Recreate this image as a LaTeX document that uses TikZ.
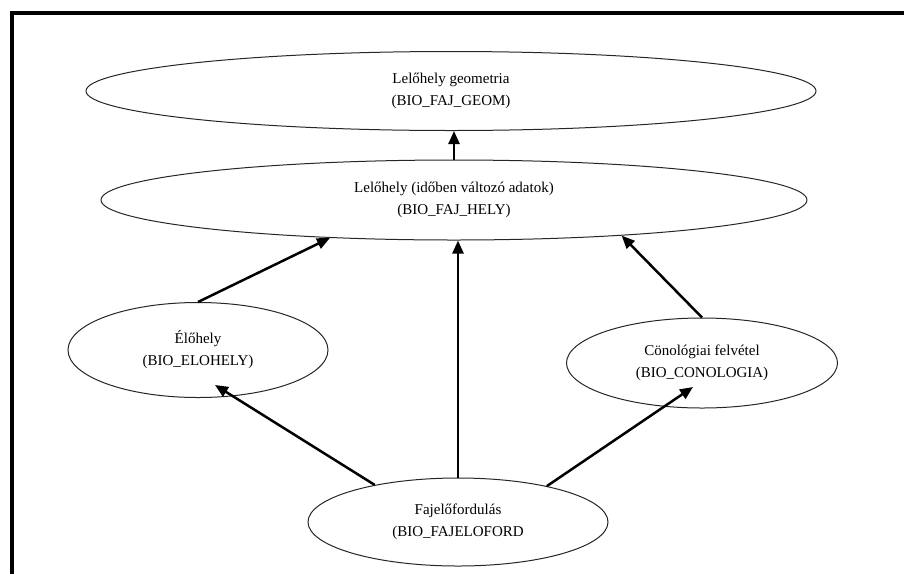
\documentclass[tikz,border=0pt]{standalone}
\usepackage{fontspec}
\setmainfont{Liberation Serif}
\usetikzlibrary{shapes.geometric,arrows.meta,calc}
\begin{document}
\begin{tikzpicture}[x=1pt,y=-1pt,
  ell/.style={draw=black!85,line width=1pt,ellipse,inner sep=0pt,align=center,
    font=\fontsize{15}{22}\selectfont},
  arr/.style={line width=2.5pt,-{Triangle[length=13pt,width=11pt]}},
  frame/.style={line width=4pt,line join=miter}]
\useasboundingbox (0,0) rectangle (904,574);
\draw[frame] (12,574) -- (12,13) -- (904,13);

\node[ell,minimum width=730pt,minimum height=79pt] (geom) at (451,91)
  {Lelőhely geometria\\(BIO\_FAJ\_GEOM)};
\node[ell,minimum width=706pt,minimum height=80pt] (hely) at (454,200)
  {Lelőhely (időben változó adatok)\\(BIO\_FAJ\_HELY)};
\node[ell,minimum width=260pt,minimum height=95pt] (elo) at (198,350)
  {Élőhely\\(BIO\_ELOHELY)};
\node[ell,minimum width=271pt,minimum height=90pt] (con) at (702,363)
  {Cönológiai felvétel\\(BIO\_CONOLOGIA)};
\node[ell,minimum width=300pt,minimum height=88pt] (fajel) at (458,522)
  {Fajelőfordulás\\(BIO\_FAJELOFORD};

\coordinate (elotip) at ($(elo.center)+(17,35)$);
\coordinate (contip) at ($(con.center)+(-9,24)$);

\draw[arr] (hely.north) -- (hely.north |- geom.south);
\draw[arr] (fajel.north) -- (fajel.north |- hely.south);
\draw[arr] (elo.north) -- (hely.-163);
\draw[arr] (con.north) -- (hely.-12.5);
\draw[arr] (fajel.156) -- (elotip);
\draw[arr] (fajel.22) -- (contip);
\end{tikzpicture}
\end{document}
